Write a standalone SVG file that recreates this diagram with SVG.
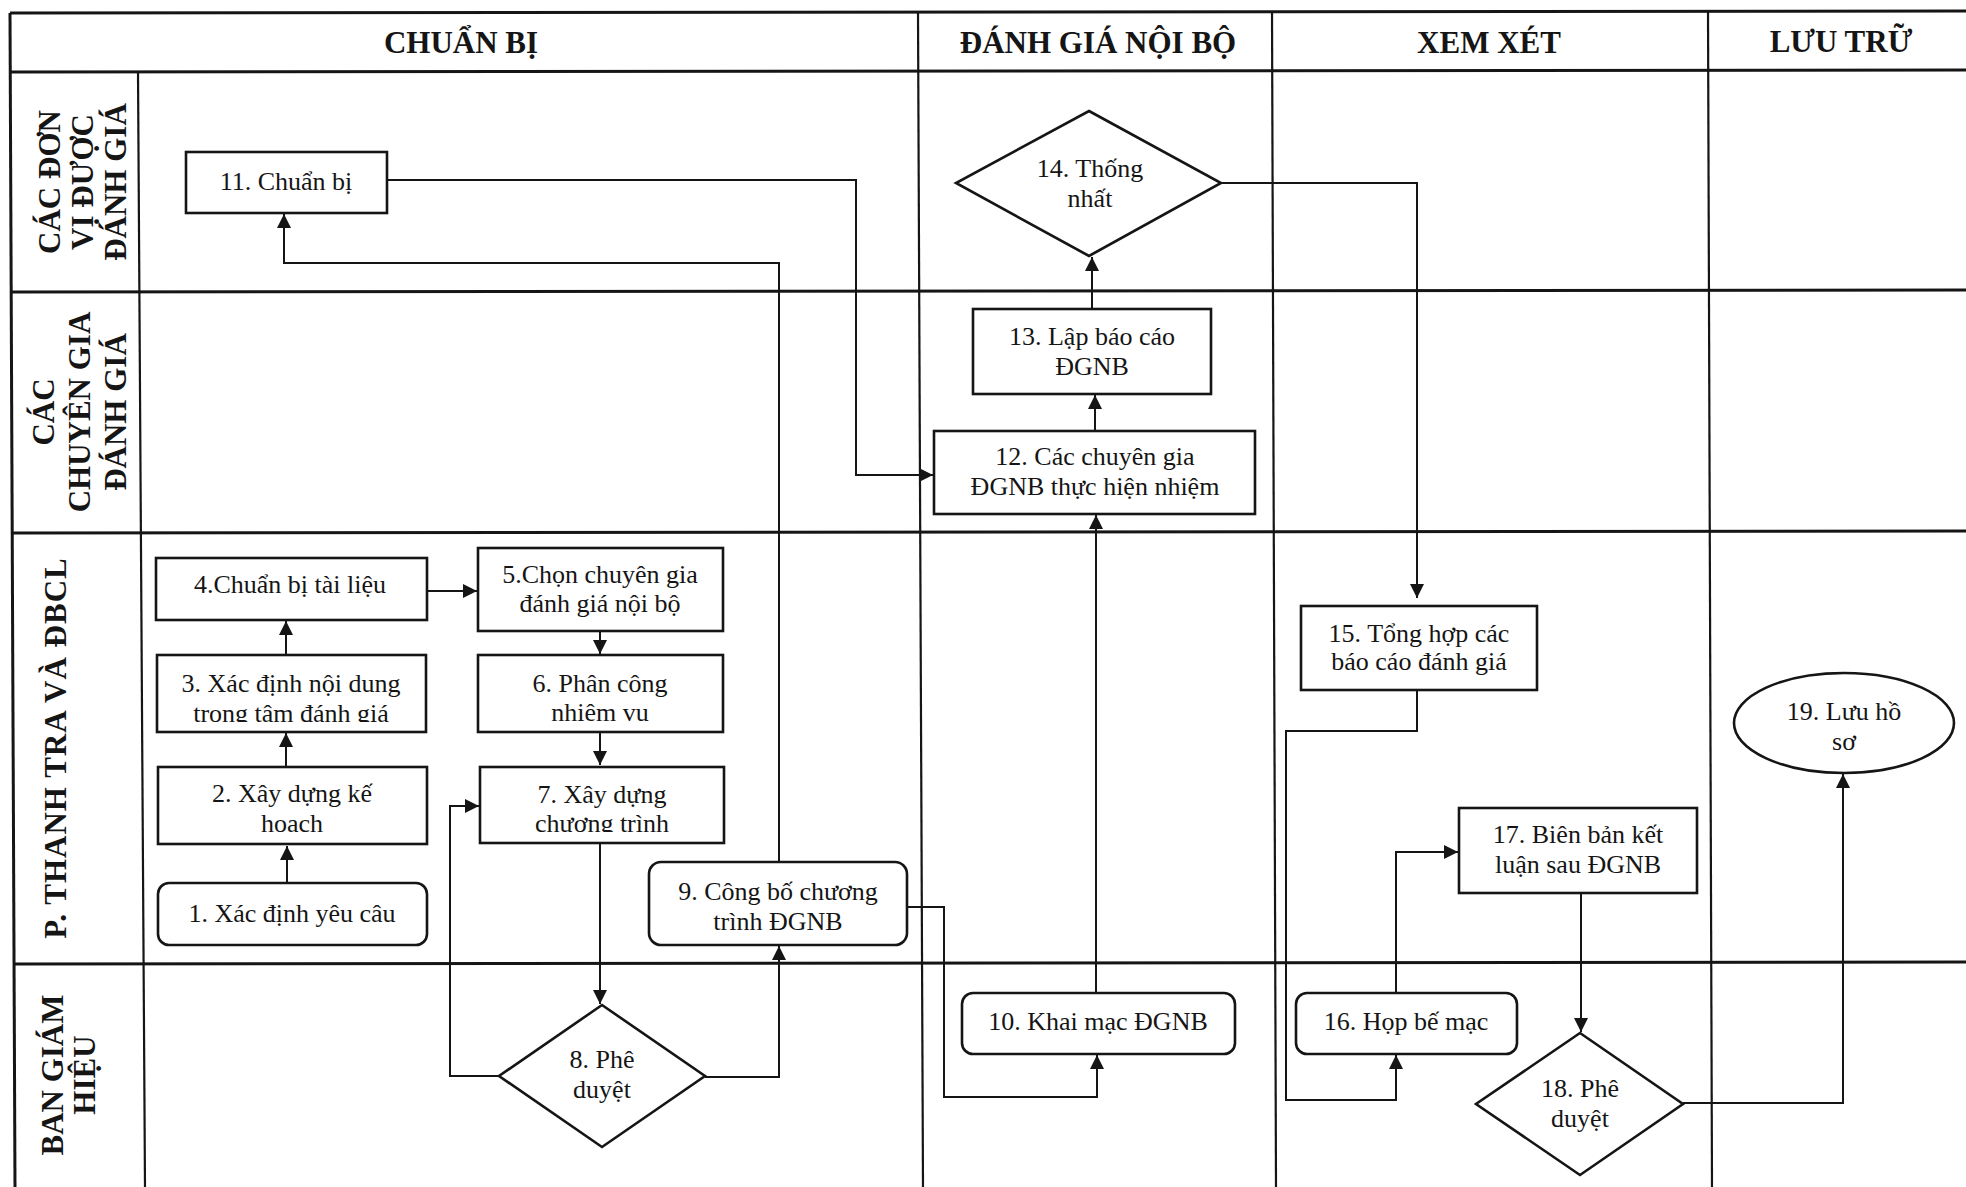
<svg xmlns="http://www.w3.org/2000/svg" width="1966" height="1187" viewBox="0 0 1966 1187">
  <defs>
    <style>
      .frame { stroke: #151515; stroke-width: 3; fill: none; }
      .col { stroke: #151515; stroke-width: 2.2; fill: none; }
      .box { fill: #ffffff; stroke: #151515; stroke-width: 2.6; }
      .conn { fill: none; stroke: #151515; stroke-width: 2; }
      .hdr { font-family: "Liberation Serif", "Times New Roman", serif; font-weight: bold; font-size: 31px; fill: #151515; text-anchor: middle; }
      .lane { font-family: "Liberation Serif", "Times New Roman", serif; font-weight: bold; font-size: 31px; fill: #151515; text-anchor: middle; }
      .lbl { font-family: "Liberation Serif", "Times New Roman", serif; font-size: 26px; fill: #151515; text-anchor: middle; }
    </style>
    <marker id="arrow" markerUnits="userSpaceOnUse" markerWidth="14" markerHeight="14" refX="14" refY="7" orient="auto">
      <path d="M0,0 L14,7 L0,14 Z" fill="#151515"/>
    </marker>
    <!-- text frames that cut off the second line of a few boxes -->
    <clipPath id="clip3"><rect x="157" y="655" width="269" height="67"/></clipPath>
    <clipPath id="clip6"><rect x="478" y="655" width="245" height="66"/></clipPath>
    <clipPath id="clip2"><rect x="158" y="767" width="269" height="65"/></clipPath>
    <clipPath id="clip7"><rect x="480" y="767" width="244" height="65"/></clipPath>
  </defs>

  <rect x="0" y="0" width="1966" height="1187" fill="#ffffff"/>

  <!-- swimlane grid -->
  <g id="grid">
    <line class="frame" x1="10" y1="13" x2="1966" y2="11"/>
    <line class="frame" x1="10" y1="72" x2="1966" y2="70"/>
    <line class="frame" x1="10" y1="292" x2="1966" y2="290"/>
    <line class="frame" x1="12" y1="533" x2="1966" y2="531"/>
    <line class="frame" x1="13" y1="964" x2="1966" y2="962"/>
    <line class="frame" x1="10" y1="13" x2="15" y2="1187"/>
    <line class="col" x1="138" y1="72" x2="145" y2="1187"/>
    <line class="col" x1="918" y1="13" x2="923" y2="1187"/>
    <line class="col" x1="1272" y1="12" x2="1276" y2="1187"/>
    <line class="col" x1="1708" y1="11" x2="1712" y2="1187"/>
  </g>

  <!-- column headers -->
  <g id="headers">
    <text class="hdr" x="461" y="53">CHUẨN BỊ</text>
    <text class="hdr" x="1098" y="53">ĐÁNH GIÁ NỘI BỘ</text>
    <text class="hdr" x="1489" y="53">XEM XÉT</text>
    <text class="hdr" x="1841" y="52">LƯU TRỮ</text>
  </g>

  <!-- lane titles -->
  <g id="lanes">
    <g transform="translate(0,182) rotate(-90)">
      <text class="lane" x="0" y="60">CÁC ĐƠN</text>
      <text class="lane" x="0" y="93">VỊ ĐƯỢC</text>
      <text class="lane" x="0" y="126">ĐÁNH GIÁ</text>
    </g>
    <g transform="translate(0,412) rotate(-90)">
      <text class="lane" x="0" y="54">CÁC</text>
      <text class="lane" x="0" y="90">CHUYÊN GIA</text>
      <text class="lane" x="0" y="126">ĐÁNH GIÁ</text>
    </g>
    <g transform="translate(0,748) rotate(-90)">
      <text class="lane" x="0" y="66" letter-spacing="1">P. THANH TRA VÀ ĐBCL</text>
    </g>
    <g transform="translate(0,1075) rotate(-90)">
      <text class="lane" x="0" y="63">BAN GIÁM</text>
      <text class="lane" x="0" y="95">HIỆU</text>
    </g>
  </g>

  <!-- connectors -->
  <g id="connectors">
    <path class="conn" d="M287,883 V846" marker-end="url(#arrow)"/>
    <path class="conn" d="M286,767 V733" marker-end="url(#arrow)"/>
    <path class="conn" d="M286,655 V621" marker-end="url(#arrow)"/>
    <path class="conn" d="M427,591 H477" marker-end="url(#arrow)"/>
    <path class="conn" d="M600,631 V654" marker-end="url(#arrow)"/>
    <path class="conn" d="M600,732 V765" marker-end="url(#arrow)"/>
    <path class="conn" d="M600,843 V1004" marker-end="url(#arrow)"/>
    <path class="conn" d="M499,1076 H450 V806 H479" marker-end="url(#arrow)"/>
    <path class="conn" d="M705,1077 H779 V946" marker-end="url(#arrow)"/>
    <path class="conn" d="M779,862 V263 H284 V214" marker-end="url(#arrow)"/>
    <path class="conn" d="M387,180 H856 V475 H933" marker-end="url(#arrow)"/>
    <path class="conn" d="M907,907 H944 V1097 H1097 V1055" marker-end="url(#arrow)"/>
    <path class="conn" d="M1096,993 V515" marker-end="url(#arrow)"/>
    <path class="conn" d="M1095,431 V395" marker-end="url(#arrow)"/>
    <path class="conn" d="M1092,309 V257" marker-end="url(#arrow)"/>
    <path class="conn" d="M1221,183 H1417 V598" marker-end="url(#arrow)"/>
    <path class="conn" d="M1417,690 V731 H1286 V1100 H1396 V1055" marker-end="url(#arrow)"/>
    <path class="conn" d="M1396,993 V852 H1458" marker-end="url(#arrow)"/>
    <path class="conn" d="M1581,893 V1032" marker-end="url(#arrow)"/>
    <path class="conn" d="M1683,1103 H1843 V774" marker-end="url(#arrow)"/>
  </g>

  <!-- process steps -->
  <g id="n1">
    <rect class="box" x="158" y="883" width="269" height="62" rx="11"/>
    <text class="lbl" x="292" y="922">1. Xác định yêu câu</text>
  </g>
  <g id="n2">
    <rect class="box" x="158" y="767" width="269" height="77"/>
    <text class="lbl" x="292" y="802">2. Xây dựng kế</text>
    <text class="lbl" x="292" y="832" clip-path="url(#clip2)">hoach</text>
  </g>
  <g id="n3">
    <rect class="box" x="157" y="655" width="269" height="77"/>
    <text class="lbl" x="291" y="692">3. Xác định nội dung</text>
    <text class="lbl" x="291" y="722" clip-path="url(#clip3)">trong tâm đánh giá</text>
  </g>
  <g id="n4">
    <rect class="box" x="156" y="558" width="271" height="62"/>
    <text class="lbl" x="290" y="593">4.Chuẩn bị tài liệu</text>
  </g>
  <g id="n5">
    <rect class="box" x="478" y="548" width="245" height="83"/>
    <text class="lbl" x="600" y="583">5.Chọn chuyên gia</text>
    <text class="lbl" x="600" y="612">đánh giá nội bộ</text>
  </g>
  <g id="n6">
    <rect class="box" x="478" y="655" width="245" height="77"/>
    <text class="lbl" x="600" y="692">6. Phân công</text>
    <text class="lbl" x="600" y="721" clip-path="url(#clip6)">nhiêm vu</text>
  </g>
  <g id="n7">
    <rect class="box" x="480" y="767" width="244" height="76"/>
    <text class="lbl" x="602" y="803">7. Xây dựng</text>
    <text class="lbl" x="602" y="832" clip-path="url(#clip7)">chương trình</text>
  </g>
  <g id="n8">
    <polygon class="box" points="602,1005 705,1076 602,1147 499,1076"/>
    <text class="lbl" x="602" y="1068">8. Phê</text>
    <text class="lbl" x="602" y="1098">duyệt</text>
  </g>
  <g id="n9">
    <rect class="box" x="649" y="862" width="258" height="83" rx="12"/>
    <text class="lbl" x="778" y="900">9. Công bố chương</text>
    <text class="lbl" x="778" y="930">trình ĐGNB</text>
  </g>
  <g id="n10">
    <rect class="box" x="962" y="993" width="273" height="61" rx="11"/>
    <text class="lbl" x="1098" y="1030">10. Khai mạc ĐGNB</text>
  </g>
  <g id="n11">
    <rect class="box" x="186" y="152" width="201" height="61"/>
    <text class="lbl" x="286" y="190">11. Chuẩn bị</text>
  </g>
  <g id="n12">
    <rect class="box" x="934" y="431" width="321" height="83"/>
    <text class="lbl" x="1095" y="465">12. Các chuyên gia</text>
    <text class="lbl" x="1095" y="495">ĐGNB thực hiện nhiệm</text>
  </g>
  <g id="n13">
    <rect class="box" x="973" y="309" width="238" height="85"/>
    <text class="lbl" x="1092" y="345">13. Lập báo cáo</text>
    <text class="lbl" x="1092" y="375">ĐGNB</text>
  </g>
  <g id="n14">
    <polygon class="box" points="1089,111 1221,183 1089,256 956,183"/>
    <text class="lbl" x="1090" y="177">14. Thống</text>
    <text class="lbl" x="1090" y="207">nhất</text>
  </g>
  <g id="n15">
    <rect class="box" x="1301" y="606" width="236" height="84"/>
    <text class="lbl" x="1419" y="642">15. Tổng hợp các</text>
    <text class="lbl" x="1419" y="670">báo cáo đánh giá</text>
  </g>
  <g id="n16">
    <rect class="box" x="1296" y="993" width="221" height="61" rx="11"/>
    <text class="lbl" x="1406" y="1030">16. Họp bế mạc</text>
  </g>
  <g id="n17">
    <rect class="box" x="1459" y="808" width="238" height="85"/>
    <text class="lbl" x="1578" y="843">17. Biên bản kết</text>
    <text class="lbl" x="1578" y="873">luận sau ĐGNB</text>
  </g>
  <g id="n18">
    <polygon class="box" points="1580,1033 1683,1104 1580,1175 1476,1104"/>
    <text class="lbl" x="1580" y="1097">18. Phê</text>
    <text class="lbl" x="1580" y="1127">duyệt</text>
  </g>
  <g id="n19">
    <ellipse class="box" cx="1844" cy="723" rx="110" ry="50"/>
    <text class="lbl" x="1844" y="720">19. Lưu hồ</text>
    <text class="lbl" x="1844" y="750">sơ</text>
  </g>
</svg>
